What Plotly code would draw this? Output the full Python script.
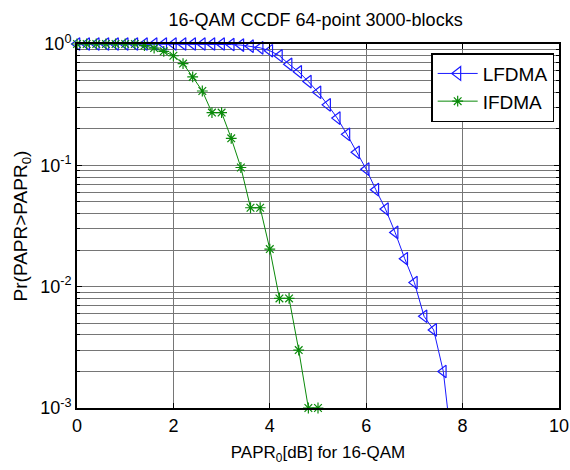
import plotly.graph_objects as go

# ---- data ----
papr_lfdma = [round(0.2 * i, 1) for i in range(40)]  # 0.0 .. 7.8 dB
ccdf_lfdma = [1.0, 1.0, 1.0, 1.0, 1.0, 1.0, 1.0, 1.0, 1.0, 1.0,
              1.0, 1.0, 1.0, 1.0, 1.0, 1.0, 0.99, 0.98, 0.96, 0.93,
              0.88, 0.80, 0.68, 0.59, 0.49, 0.40, 0.315, 0.245, 0.18, 0.128,
              0.093, 0.063, 0.0436, 0.028, 0.017, 0.0108, 0.0057, 0.0044, 0.0020, 0.0004]

papr_ifdma = [round(0.2 * i, 1) for i in range(26)]  # 0.0 .. 5.0 dB
ccdf_ifdma = [1.0, 1.0, 1.0, 1.0, 1.0, 1.0, 1.0, 0.97, 0.925, 0.87,
              0.80, 0.69, 0.535, 0.41, 0.272, 0.272, 0.167, 0.096, 0.0447, 0.0447,
              0.0204, 0.008, 0.008, 0.003, 0.001, 0.001]

x_ticks = [0, 2, 4, 6, 8, 10]
y_ticks = [1, 0.1, 0.01, 0.001]
y_ticktext = ["10<sup>0</sup>", "10<sup>-1</sup>", "10<sup>-2</sup>", "10<sup>-3</sup>"]

FONT = "Liberation Sans, Arial, sans-serif"
BLUE = "#1a1aff"
GREEN = "#0a8a0a"
YMIN = 0.001

def inrange(xs, ys):
    px, py = [], []
    for a, b in zip(xs, ys):
        if b >= YMIN * 0.999:
            px.append(a)
            py.append(b)
    return px, py

fig = go.Figure()

# lines (clipped to axes)
fig.add_trace(go.Scatter(x=papr_lfdma, y=ccdf_lfdma, mode="lines",
                         line=dict(color=BLUE, width=1), showlegend=False,
                         hoverinfo="skip"))
fig.add_trace(go.Scatter(x=papr_ifdma, y=ccdf_ifdma, mode="lines",
                         line=dict(color=GREEN, width=1), showlegend=False,
                         hoverinfo="skip"))

# markers (not clipped, only those inside the range)
lx, ly = inrange(papr_lfdma, ccdf_lfdma)
ix, iy = inrange(papr_ifdma, ccdf_ifdma)
fig.add_trace(go.Scatter(x=lx, y=ly, mode="markers", cliponaxis=False,
                         marker=dict(symbol="triangle-left-open", size=11,
                                     color=BLUE, line=dict(width=1.2, color=BLUE)),
                         showlegend=False))
fig.add_trace(go.Scatter(x=ix, y=iy, mode="markers", cliponaxis=False,
                         marker=dict(symbol="asterisk-open", size=9,
                                     color=GREEN, line=dict(width=1.2, color=GREEN)),
                         showlegend=False))

# legend entries
fig.add_trace(go.Scatter(x=[None], y=[None], mode="lines+markers", name="LFDMA",
                         line=dict(color=BLUE, width=1),
                         marker=dict(symbol="triangle-left-open", size=12,
                                     color=BLUE, line=dict(width=1.2, color=BLUE))))
fig.add_trace(go.Scatter(x=[None], y=[None], mode="lines+markers", name="IFDMA",
                         line=dict(color=GREEN, width=1),
                         marker=dict(symbol="asterisk-open", size=9,
                                     color=GREEN, line=dict(width=1.2, color=GREEN))))

GRID = "#767676"
fig.update_layout(
    width=570, height=470,
    margin=dict(l=77, r=11, t=44, b=62),
    paper_bgcolor="white", plot_bgcolor="white",
    font=dict(family=FONT, size=18, color="black"),
    title=dict(text="16-QAM CCDF 64-point 3000-blocks", xref="paper", x=0.495,
               xanchor="center", y=0.958, yanchor="middle",
               font=dict(family=FONT, size=18)),
    legend=dict(x=0.99, xanchor="right", y=0.975, yanchor="top",
                bgcolor="white", bordercolor="black", borderwidth=1.5,
                font=dict(family=FONT, size=19), itemwidth=40,
                tracegroupgap=4),
    xaxis=dict(range=[0, 10], tickvals=x_ticks, ticktext=[str(v) for v in x_ticks],
               showgrid=True, gridcolor=GRID, gridwidth=1,
               showline=True, linecolor="black", linewidth=2, mirror="ticks",
               ticks="inside", ticklen=5, tickcolor="black", automargin=False,
               zeroline=False, tickfont=dict(size=18), ticklabeloverflow="allow",
               title=dict(text="PAPR<sub>0</sub>[dB] for 16-QAM", standoff=12,
                          font=dict(size=17))),
    yaxis=dict(type="log", range=[-3, 0], tickvals=y_ticks, ticktext=y_ticktext,
               showgrid=True, gridcolor=GRID, gridwidth=1, automargin=False,
               showline=True, linecolor="black", linewidth=2, mirror="ticks",
               ticks="inside", ticklen=5, tickcolor="black",
               zeroline=False, tickfont=dict(size=18),
               minor=dict(dtick="D1", showgrid=True, gridcolor=GRID, gridwidth=1,
                          ticks="inside", ticklen=3, tickcolor="black"),
               title=dict(text="Pr(PAPR>PAPR<sub>0</sub>)", standoff=8,
                          font=dict(size=19))),
)

fig.write_html("out.html")
